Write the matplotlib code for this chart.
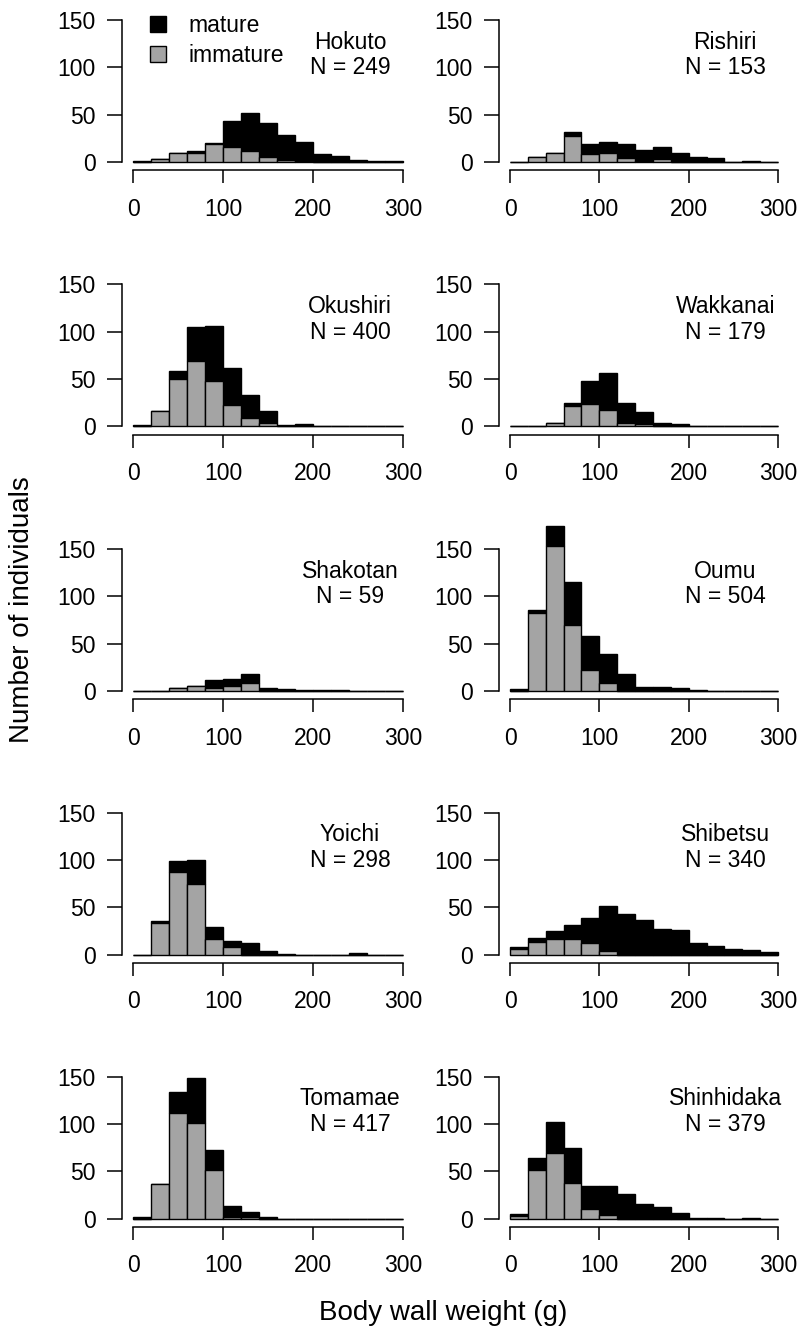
import numpy as np
import matplotlib
matplotlib.use("Agg")
import matplotlib.pyplot as plt
from matplotlib.patches import Patch

plt.rcParams['font.family'] = ['Liberation Sans', 'DejaVu Sans']

# ---------------- data ----------------
bin_edges = list(range(0, 301, 20))   # 0,20,...,300 g
x_ticks = [0, 100, 200, 300]
y_ticks = [0, 50, 100, 150]

sites = ["Hokuto", "Rishiri", "Okushiri", "Wakkanai", "Shakotan",
         "Oumu", "Yoichi", "Shibetsu", "Tomamae", "Shinhidaka"]
sample_sizes = [249, 153, 400, 179, 59, 504, 298, 340, 417, 379]

hokuto_immature     = [0, 3, 9, 9, 19, 16, 12, 5, 2, 1, 0, 0, 0, 0, 0]
hokuto_mature       = [1, 0, 0, 3, 1, 27, 40, 36, 27, 20, 8, 6, 2, 1, 1]
rishiri_immature    = [0, 5, 9, 27, 8, 9, 4, 1, 3, 0, 0, 0, 0, 0, 0]
rishiri_mature      = [0, 0, 0, 5, 11, 12, 15, 12, 13, 9, 5, 4, 0, 1, 0]
okushiri_immature   = [0, 16, 50, 69, 48, 22, 9, 4, 0, 0, 0, 0, 0, 0, 0]
okushiri_mature     = [1, 0, 8, 36, 58, 40, 24, 12, 1, 2, 0, 0, 0, 0, 0]
wakkanai_immature   = [0, 0, 4, 21, 24, 17, 4, 2, 0, 0, 0, 0, 0, 0, 0]
wakkanai_mature     = [0, 0, 0, 4, 24, 39, 21, 13, 4, 2, 0, 0, 0, 0, 0]
shakotan_immature   = [0, 0, 3, 5, 3, 5, 8, 0, 0, 0, 0, 0, 0, 0, 0]
shakotan_mature     = [0, 0, 0, 0, 9, 8, 10, 3, 2, 1, 1, 1, 0, 0, 0]
oumu_immature       = [0, 82, 153, 70, 22, 8, 0, 0, 0, 0, 0, 0, 0, 0, 0]
oumu_mature         = [2, 4, 21, 45, 36, 31, 18, 4, 4, 3, 1, 0, 0, 0, 0]
yoichi_immature     = [0, 33, 87, 75, 17, 8, 0, 0, 0, 0, 0, 0, 0, 0, 0]
yoichi_mature       = [0, 3, 12, 25, 12, 7, 12, 4, 1, 0, 0, 0, 2, 0, 0]
shibetsu_immature   = [6, 13, 17, 17, 12, 4, 0, 0, 0, 0, 0, 0, 0, 0, 0]
shibetsu_mature     = [2, 5, 8, 14, 27, 47, 43, 37, 27, 26, 12, 9, 6, 5, 3]
tomamae_immature    = [0, 37, 112, 101, 51, 2, 2, 0, 0, 0, 0, 0, 0, 0, 0]
tomamae_mature      = [2, 0, 22, 48, 22, 11, 5, 2, 0, 0, 0, 0, 0, 0, 0]
shinhidaka_immature = [3, 51, 69, 38, 10, 4, 0, 0, 0, 0, 0, 0, 0, 0, 0]
shinhidaka_mature   = [2, 13, 33, 37, 25, 31, 26, 16, 12, 6, 1, 1, 0, 1, 0]

immature_counts = [hokuto_immature, rishiri_immature, okushiri_immature,
                   wakkanai_immature, shakotan_immature, oumu_immature,
                   yoichi_immature, shibetsu_immature, tomamae_immature,
                   shinhidaka_immature]
mature_counts = [hokuto_mature, rishiri_mature, okushiri_mature,
                 wakkanai_mature, shakotan_mature, oumu_mature,
                 yoichi_mature, shibetsu_mature, tomamae_mature,
                 shinhidaka_mature]

# ---------------- layout ----------------
W, H = 801, 1340
fig = plt.figure(figsize=(W / 100, H / 100), dpi=100)

col_left_px = [122.2, 499.3]
col_w_px = [291.6, 289.4]
row_top_px = [14.3, 278.6, 543.3, 807.0, 1071.0]
ax_h_px = 153.4

GREY = '#a4a4a4'
FS = 16.5

edges = np.array(bin_edges, dtype=float)
lefts = edges[:-1]
widths = np.diff(edges)

for i, site in enumerate(sites):
    r, c = divmod(i, 2)
    left = col_left_px[c] / W
    bottom = 1 - (row_top_px[r] + ax_h_px) / H
    ax = fig.add_axes([left, bottom, col_w_px[c] / W, ax_h_px / H])

    imm = np.array(immature_counts[i], dtype=float)
    mat = np.array(mature_counts[i], dtype=float)

    ax.bar(lefts, mat, width=widths, bottom=imm, align='edge',
           color='black', edgecolor='black', linewidth=1.0, clip_on=False,
           zorder=2)
    ax.bar(lefts, imm, width=widths, align='edge',
           color=GREY, edgecolor='black', linewidth=1.0, clip_on=False,
           zorder=3)

    ax.set_xlim(-12, 312)
    ax.set_ylim(-6, 156)
    for s in ['top', 'right']:
        ax.spines[s].set_visible(False)
    ax.spines['left'].set_bounds(0, 150)
    ax.spines['bottom'].set_bounds(0, 300)
    ax.spines['bottom'].set_position(('outward', 2))
    ax.spines['left'].set_linewidth(1.1)
    ax.spines['bottom'].set_linewidth(1.1)
    ax.set_xticks(x_ticks)
    ax.set_yticks(y_ticks)
    ax.tick_params(axis='x', length=9.5, width=1.1, pad=10, labelsize=FS)
    ax.tick_params(axis='y', length=10.5, width=1.1, pad=8.5, labelsize=FS)
    ax.patch.set_visible(False)

    ax.text(241, 113, f"{site}\nN = {sample_sizes[i]}", ha='center',
            va='center', fontsize=FS, linespacing=1.15)

    if i == 0:
        handles = [Patch(facecolor='black', edgecolor='black', linewidth=1.0),
                   Patch(facecolor=GREY, edgecolor='black', linewidth=1.0)]
        ax.legend(handles, ['mature', 'immature'], loc='upper left',
                  bbox_to_anchor=(0.095, 1.0), frameon=False, fontsize=FS,
                  handlelength=0.7, handleheight=0.7, handletextpad=1.0,
                  labelspacing=0.3, borderpad=0, borderaxespad=0)

fig.text(443 / W, 1 - 1313 / H, "Body wall weight (g)", ha='center',
         va='center', fontsize=20)
fig.text(22 / W, 1 - 610 / H, "Number of individuals", ha='center',
         va='center', rotation=90, fontsize=20)

fig.savefig("out.png", dpi=100, facecolor='white')
